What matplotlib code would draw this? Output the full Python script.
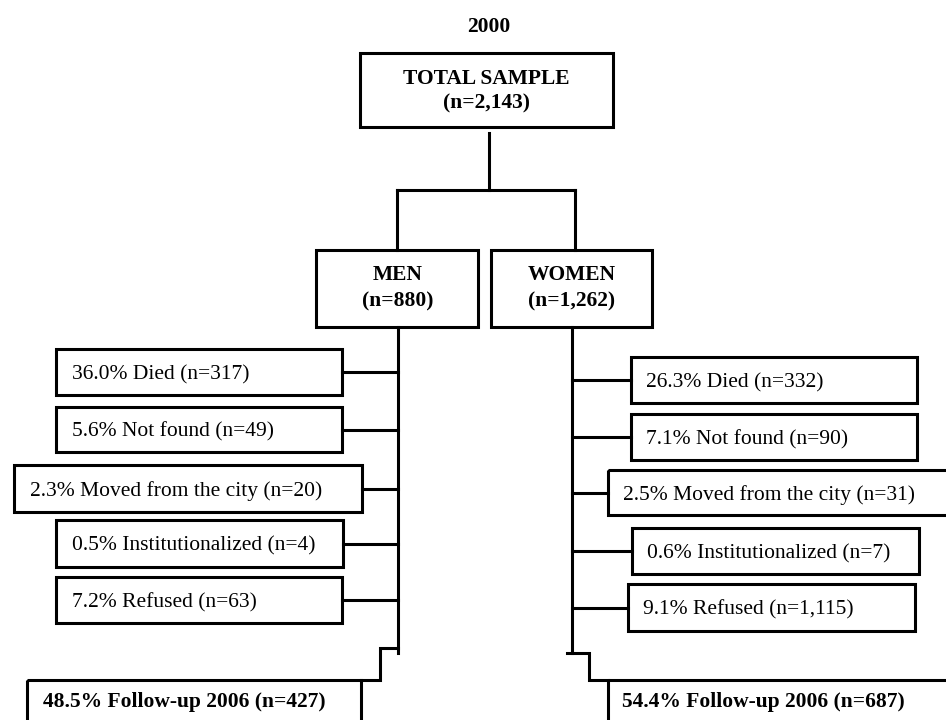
import matplotlib
matplotlib.use("Agg")
import matplotlib.pyplot as plt
from matplotlib.patches import Rectangle

# ---------------- data ----------------
year_label = "2000"
total_n = 2143
group_labels = ["MEN", "WOMEN"]
group_n = [880, 1262]
reasons = ["Died", "Not found", "Moved from the city", "Institutionalized", "Refused"]
men_pct = [36.0, 5.6, 2.3, 0.5, 7.2]
men_n = [317, 49, 20, 4, 63]
women_pct = [26.3, 7.1, 2.5, 0.6, 9.1]
women_n = [332, 90, 31, 7, 1115]
followup_year = "2006"
followup_pct = [48.5, 54.4]
followup_n = [427, 687]

# ---------------- layout (pixel coordinates) ----------------
W, H = 946, 720
fig = plt.figure(figsize=(W / 100, H / 100), dpi=100)
ax = fig.add_axes([0, 0, 1, 1])
ax.set_xlim(0, W)
ax.set_ylim(H, 0)
ax.axis("off")

FONT = "Liberation Serif"
FS = 15.5
LW = 2.2
VA = "center_baseline"

def box(x0, y0, x1, y1):
    ax.add_patch(Rectangle((x0, y0), x1 - x0, y1 - y0, fill=False,
                           edgecolor="black", lw=LW, joinstyle="miter", clip_on=True))

def line(xs, ys):
    ax.plot(xs, ys, color="black", lw=LW, solid_capstyle="projecting",
            solid_joinstyle="miter")

# title
ax.text(489, 25, year_label, ha="center", va=VA, fontsize=FS,
        fontweight="bold", family=FONT)

# total box
box(360, 53, 613, 127)
ax.text(486, 77, "TOTAL SAMPLE", ha="center", va=VA, fontsize=FS,
        fontweight="bold", family=FONT)
ax.text(486, 101, f"(n={total_n:,})", ha="center", va=VA, fontsize=FS,
        fontweight="bold", family=FONT)

# split connector
line([489, 489], [133, 190])
line([397, 575], [190, 190])
line([397, 397], [190, 250])
line([575, 575], [190, 250])

# group boxes
group_boxes = [(316, 250, 478, 327), (491, 250, 652, 327)]
group_cx = [398, 572]
for (x0, y0, x1, y1), lab, n, cx in zip(group_boxes, group_labels, group_n, group_cx):
    box(x0, y0, x1, y1)
    ax.text(cx, 273, lab, ha="center", va=VA, fontsize=FS,
            fontweight="bold", family=FONT)
    ax.text(cx, 299, f"(n={n:,})", ha="center", va=VA, fontsize=FS,
            fontweight="bold", family=FONT)

# men side boxes (x0, y0, x1, y1)
men_boxes = [(56, 349, 342, 395), (56, 407, 342, 452), (14, 465, 362, 512),
             (56, 520, 343, 567), (56, 577, 342, 623)]
men_line_x = 398
line([men_line_x, men_line_x], [327, 653])
for (x0, y0, x1, y1), r, p, n in zip(men_boxes, reasons, men_pct, men_n):
    box(x0, y0, x1, y1)
    yc = (y0 + y1) / 2
    line([x1, men_line_x], [yc, yc])
    ax.text(x0 + 16, yc, f"{p:.1f}% {r} (n={n:,})", ha="left", va=VA,
            fontsize=FS, family=FONT)

# women side boxes
women_boxes = [(631, 357, 917, 403), (631, 414, 917, 460), (608, 470, 960, 515),
               (632, 528, 919, 574), (628, 584, 915, 631)]
women_line_x = 572
line([women_line_x, women_line_x], [327, 653])
for (x0, y0, x1, y1), r, p, n in zip(women_boxes, reasons, women_pct, women_n):
    box(x0, y0, x1, y1)
    yc = (y0 + y1) / 2
    line([women_line_x, x0], [yc, yc])
    ax.text(x0 + 15, yc, f"{p:.1f}% {r} (n={n:,})", ha="left", va=VA,
            fontsize=FS, family=FONT)

# men follow-up step and box
line([men_line_x, 380, 380, 361], [648, 648, 680, 680])
box(27, 680, 361, 740)
ax.text(43, 699, f"{followup_pct[0]:.1f}% Follow-up {followup_year} (n={followup_n[0]:,})",
        ha="left", va=VA, fontsize=FS, fontweight="bold", family=FONT)

# women follow-up step and box
line([567, 589, 589, 608], [653, 653, 680, 680])
box(608, 680, 960, 740)
ax.text(622, 699, f"{followup_pct[1]:.1f}% Follow-up {followup_year} (n={followup_n[1]:,})",
        ha="left", va=VA, fontsize=FS, fontweight="bold", family=FONT)

fig.savefig("out.png", dpi=100)
